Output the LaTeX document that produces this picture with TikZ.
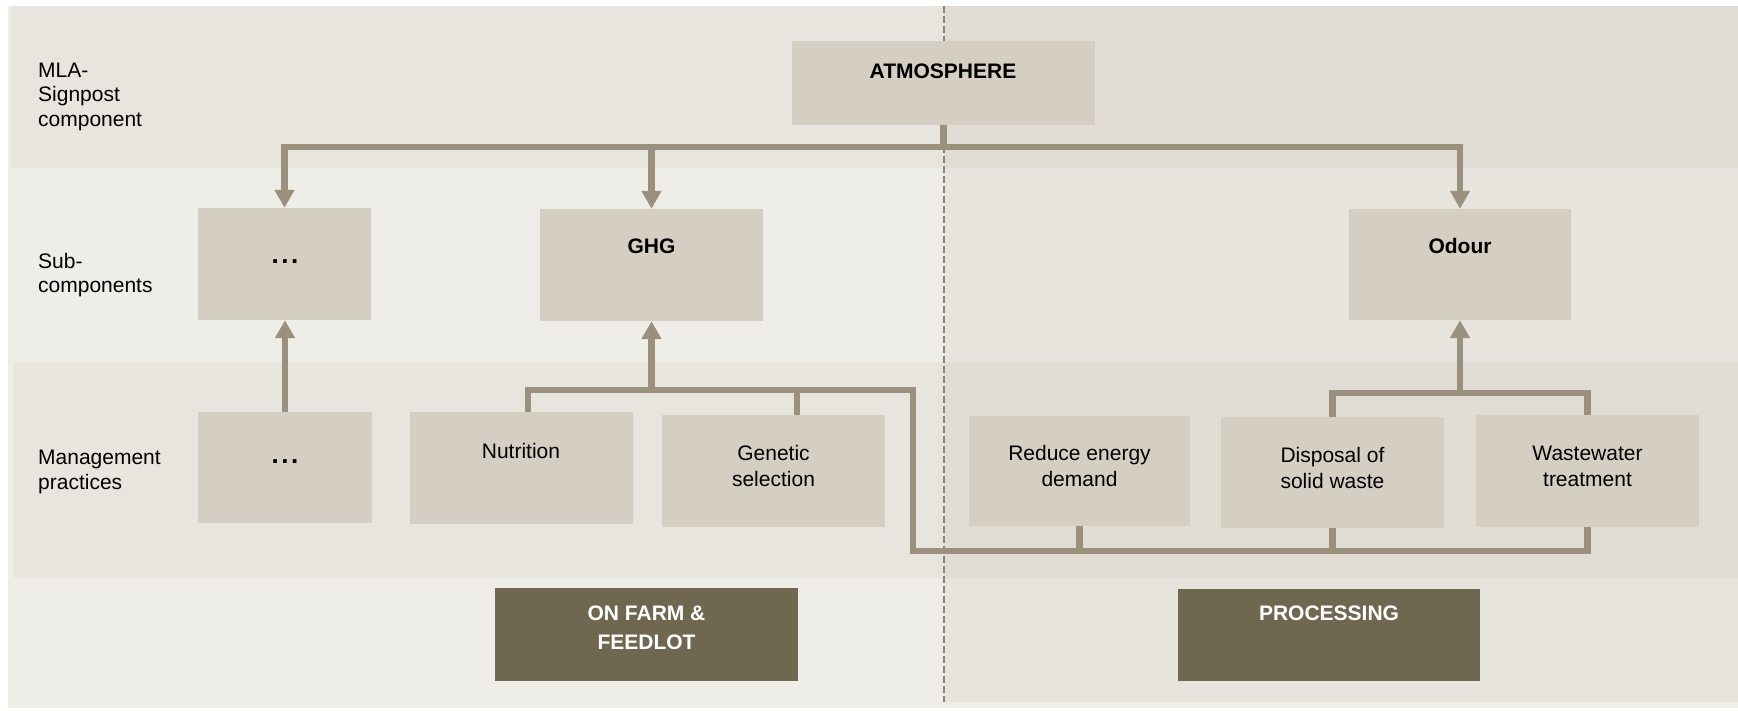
\documentclass[tikz,border=0pt]{standalone}
\usepackage{fontspec}
\setmainfont{Liberation Sans}
\usetikzlibrary{arrows.meta}
\definecolor{bgplain}{HTML}{EFEDE8}
\definecolor{bgtexL}{HTML}{E8E5DF}
\definecolor{bgtexR}{HTML}{E7E4DE}
\definecolor{bgbandR}{HTML}{E1DDD5}
\definecolor{boxc}{HTML}{D4CEC3}
\definecolor{connc}{HTML}{9B8F7E}
\definecolor{darkc}{HTML}{706751}
\definecolor{dashc}{HTML}{8C8373}
\begin{document}
\begin{tikzpicture}[x=1pt,y=-1pt,
  box/.style={rectangle, fill=boxc, inner sep=0pt, draw=none},
  darkbox/.style={rectangle, fill=darkc, inner sep=0pt, draw=none},
  txt/.style={inner sep=0pt, align=center, text depth=0pt, font=\fontsize{21}{26}\selectfont},
  btxt/.style={txt, font=\fontsize{21}{26}\selectfont\bfseries},
  dtxt/.style={txt, font=\fontsize{26}{26}\selectfont\bfseries},
  wtxt/.style={txt, text=white, font=\fontsize{21}{29}\selectfont\bfseries},
  side/.style={inner sep=0pt, align=left, anchor=west, text depth=0pt, font=\fontsize{21}{24.5}\selectfont},
  conn/.style={draw=connc, line width=6.5pt, line cap=butt, line join=miter},
  arr/.style={-{Triangle[width=19pt,length=18pt]}},
  twoarr/.style={{Triangle[width=19pt,length=18pt]}-{Triangle[width=19pt,length=18pt]}},
  dashline/.style={draw=dashc, line width=1.8pt, dash pattern=on 7pt off 3pt}]
\useasboundingbox (0,0) rectangle (1738,710);
% backgrounds
\fill[white] (0,0) rectangle (1738,710);
\fill[bgplain] (8,6) rectangle (1738,708);
\fill[bgtexL] (11,6) rectangle (944,168);
\fill[bgtexL] (14,362) rectangle (944,578);
\fill[bgtexR] (944,6) rectangle (1738,702);
\fill[bgbandR] (944,6) rectangle (1738,168);
\fill[bgbandR] (944,362) rectangle (1738,578);
\draw[dashline] (944,6) -- (944,702);

% side labels
\node[side] (l1) at (38,94.5) {MLA-\\Signpost\\component};
\node[side] (l2) at (38,273) {Sub-\\components};
\node[side] (l3) at (38,470) {Management\\practices};

% boxes
\node[box, minimum width=303pt, minimum height=84pt] (atm) at (943.5,83) {};
\node[box, minimum width=173pt, minimum height=112pt] (subdots) at (284.5,264) {};
\node[box, minimum width=223pt, minimum height=112pt] (ghg) at (651.5,265) {};
\node[box, minimum width=222pt, minimum height=111pt] (odour) at (1460,264.5) {};
\node[box, minimum width=174pt, minimum height=111pt] (mdots) at (285,467.5) {};
\node[box, minimum width=223pt, minimum height=112pt] (nutr) at (521.5,468) {};
\node[box, minimum width=223pt, minimum height=112pt] (gen) at (773.5,471) {};
\node[box, minimum width=221pt, minimum height=110pt] (red) at (1079.5,471) {};
\node[box, minimum width=223pt, minimum height=111pt] (disp) at (1332.5,472.5) {};
\node[box, minimum width=223pt, minimum height=112pt] (ww) at (1587.5,471) {};
\node[darkbox, minimum width=303pt, minimum height=93pt] (farm) at (646.5,634.5) {};
\node[darkbox, minimum width=302pt, minimum height=92pt] (proc) at (1329,635) {};

% texts
\node[btxt] (tatm) at (943,71) {ATMOSPHERE};
\node[btxt] (tghg) at (651.5,246) {GHG};
\node[btxt] (todour) at (1460,246) {Odour};
\node[dtxt] (tsubdots) at (285,262) {.\kern2.6pt.\kern2.6pt.};
\node[dtxt] (tmdots) at (285,462) {.\kern2.6pt.\kern2.6pt.};
\node[txt] (tnutr) at (521,451) {Nutrition};
\node[txt] (tgen) at (773.5,466) {Genetic\\selection};
\node[txt] (tred) at (1079.5,466) {Reduce energy\\demand};
\node[txt] (tdisp) at (1332.5,468) {Disposal of\\solid waste};
\node[txt] (tww) at (1587.5,466) {Wastewater\\treatment};
\node[wtxt] (tfarm) at (646.5,627.5) {ON FARM \&\\FEEDLOT};
\node[wtxt] (tproc) at (1329,613) {PROCESSING};

% bus coordinates
\coordinate (topbus) at (0,147);
\coordinate (c1) at (913,390);
\coordinate (botbus) at (0,551);
\coordinate (ob) at (1460,393);

% top level connectors
\draw[conn] (atm.south) -- (atm.south |- topbus);
\draw[conn, twoarr] (subdots.north) |- (odour.north |- topbus) -- (odour.north);
\draw[conn, arr] (ghg.north |- topbus) -- (ghg.north);

% management to sub-components
\draw[conn, arr] (mdots.north) -- (mdots.north |- subdots.south);
\draw[conn] ([xshift=6.5pt]nutr.north) |- (c1) |- (ww.south |- botbus) -- (ww.south);
\draw[conn] ([xshift=23.5pt]gen.north) -- ([xshift=23.5pt]gen.north |- c1);
\draw[conn, arr] (ghg.south |- c1) -- (ghg.south);
\draw[conn] (red.south) -- (red.south |- botbus);
\draw[conn] (disp.south) -- (disp.south |- botbus);
\draw[conn] (disp.north) |- (ob) -| (ww.north);
\draw[conn, arr] (ob) -- (odour.south);
\end{tikzpicture}
\end{document}
